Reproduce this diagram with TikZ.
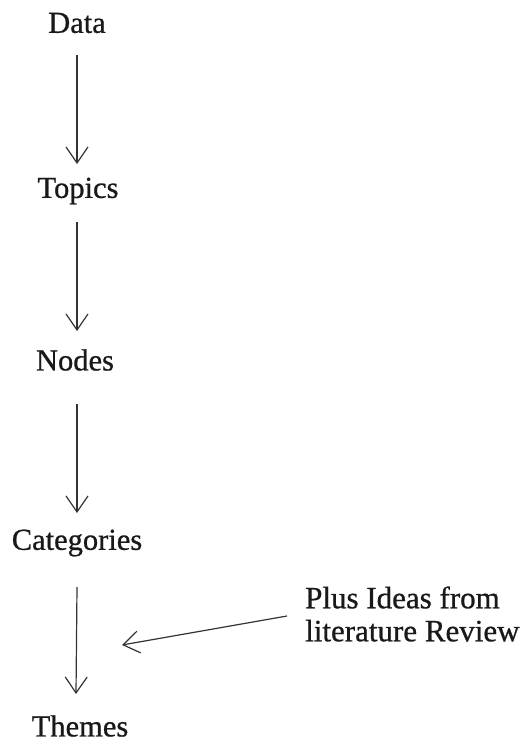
\documentclass[tikz,border=0pt]{standalone}
\usepackage{fontspec}
\setmainfont{Liberation Serif}
\newfontfamily\labelfont{Liberation Serif}[FakeBold=0.8]
\usetikzlibrary{arrows.meta}
\begin{document}
\begin{tikzpicture}[x=1pt,y=-1pt,
  label/.style={font=\labelfont\fontsize{30.5}{33}\selectfont, inner sep=0pt, text=black!90},
  flow/.style={draw=black!80, line width=1.2pt, -{Straight Barb[length=16pt,width=22pt]}}]
  \useasboundingbox (0,0) rectangle (525,742);
  \node[label] (data) at (77,23) {Data};
  \node[label] (topics) at (78,191) {Topics};
  \node[label] (nodes) at (75,360) {Nodes};
  \node[label] (cats) at (77,543) {Categories};
  \node[label] (themes) at (80,726) {Themes};
  \node[label, align=left, anchor=west, font=\labelfont\fontsize{31}{33}\selectfont] (plus) at (305,614) {Plus Ideas from\\literature Review};
  \coordinate (a1s) at (77,55);  \coordinate (a1e) at (77,164);
  \coordinate (a2s) at (77,222); \coordinate (a2e) at (77,331);
  \coordinate (a3s) at (77,404); \coordinate (a3e) at (77,513);
  \coordinate (a4s) at (77,587); \coordinate (a4e) at (76,694);
  \coordinate (ps) at (287,616); \coordinate (pe) at (122,645);
  \draw[flow] (a1s) -- (a1e);
  \draw[flow] (a2s) -- (a2e);
  \draw[flow] (a3s) -- (a3e);
  \draw[flow] (a4s) -- (a4e);
  \draw[flow] (ps) -- (pe);
\end{tikzpicture}
\end{document}
